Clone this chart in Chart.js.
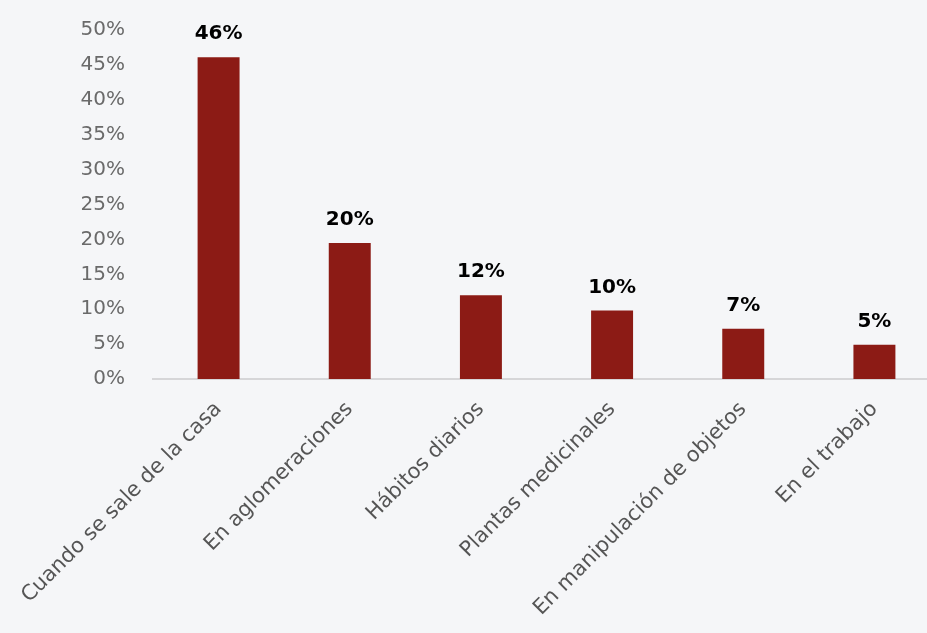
<!DOCTYPE html>
<html lang="es">
<head>
<meta charset="utf-8">
<title>Momentos de uso</title>
<script src="https://cdn.jsdelivr.net/npm/chart.js@4.4.1/dist/chart.umd.min.js"></script>
<style>
  html, body {
    margin: 0;
    padding: 0;
    overflow: hidden;
    background: #f5f6f8;
  }
  #wrap {
    width: 940px;
    height: 643px;
    margin-top: -10px;
    position: relative;
  }
</style>
</head>
<body>
<div id="wrap">
  <canvas id="grafico"></canvas>
</div>

<script>
// =========================
// DATOS
// =========================

const categorias = [
  "Cuando se sale de la casa",
  "En aglomeraciones",
  "Hábitos diarios",
  "Plantas medicinales",
  "En manipulación de objetos",
  "En el trabajo"
];

const porcentajes = [46.1, 19.5, 12.0, 9.8, 7.2, 4.9];

const ejeMax = 50;
const ejePaso = 5;

const colorBarra = "#8c1b15";

const fuente = "'DejaVu Sans', sans-serif";

// =========================
// ETIQUETAS SOBRE LAS BARRAS
// =========================

const etiquetasValor = {
  id: "etiquetasValor",
  afterDatasetsDraw(chart)
  {
    const ctx = chart.ctx;
    const meta = chart.getDatasetMeta(0);

    ctx.save();
    ctx.font = "bold 20px " + fuente;
    ctx.fillStyle = "#000000";
    ctx.textAlign = "center";
    ctx.textBaseline = "alphabetic";

    meta.data.forEach((barra, i) =>
    {
      const valor = chart.data.datasets[0].data[i];
      ctx.fillText(Math.round(valor) + "%", barra.x, barra.y - 18);
    });

    ctx.restore();
  }
};

// =========================
// CHART
// =========================

const ctx = document.getElementById("grafico");

const grafico = new Chart(ctx, {
  type: "bar",
  data: {
    labels: categorias,
    datasets: [
      {
        data: porcentajes,
        backgroundColor: colorBarra,
        categoryPercentage: 1,
        barPercentage: 0.32
      }
    ]
  },
  options: {
    responsive: true,
    maintainAspectRatio: false,
    animation: false,
    layout: {
      padding: { top: 19, right: 0, left: 0, bottom: 0 }
    },
    plugins: {
      legend: { display: false },
      tooltip: { enabled: false }
    },
    scales: {
      x: {
        grid: { display: false, drawTicks: false },
        border: { display: true, color: "#d6d6d8", width: 2 },
        ticks: {
          color: "#555555",
          font: { family: fuente, size: 21 },
          minRotation: 45,
          maxRotation: 45,
          padding: 18
        },
        afterFit(scale)
        {
          // las etiquetas giradas no deben empujar el área del gráfico
          scale.height = 254;
          scale.paddingLeft = 0;
          scale.paddingRight = 0;
        }
      },
      y: {
        min: 0,
        max: ejeMax,
        grid: { display: false, drawTicks: false },
        border: { display: false },
        ticks: {
          stepSize: ejePaso,
          color: "#6a6a6a",
          font: { family: fuente, size: 20 },
          padding: 28,
          callback: (v) => v + "%"
        },
        afterFit(scale)
        {
          scale.width = 153;
        }
      }
    }
  },
  plugins: [etiquetasValor]
});
</script>
</body>
</html>
